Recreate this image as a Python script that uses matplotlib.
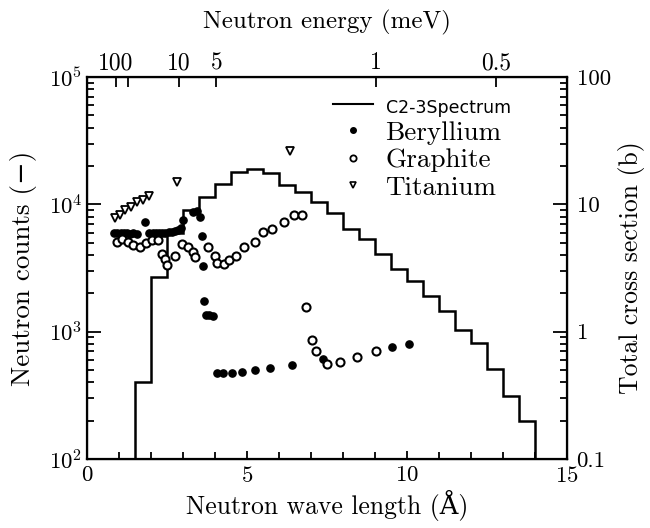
import numpy as np
import matplotlib.pyplot as plt
from matplotlib.lines import Line2D
from matplotlib.ticker import LogLocator, NullLocator, MultipleLocator, FixedLocator

plt.rcParams['font.family'] = ['cmr10', 'DejaVu Serif']
plt.rcParams['mathtext.fontset'] = 'cm'
plt.rcParams['axes.formatter.use_mathtext'] = True
plt.rcParams['axes.unicode_minus'] = False

# C2-3 spectrum, bin edges (A) and counts
edges = [1.5, 2.0, 2.5, 3.0, 3.5, 4.0, 4.5, 5.0, 5.5, 6.0, 6.5, 7.0, 7.5,
         8.0, 8.5, 9.0, 9.5, 10.0, 10.5, 11.0, 11.5, 12.0, 12.5, 13.0, 13.5, 14.0]
counts = [400, 2700, 6000, 9100, 11400, 14400, 17800, 18900, 17500, 14300,
          12400, 10500, 8500, 6450, 5300, 4100, 3080, 2520, 1890, 1440,
          1020, 820, 510, 310, 200]

# total cross sections (b)
lam_be = [0.85, 0.95, 1.05, 1.15, 1.25, 1.35, 1.45, 1.55, 1.81, 1.95, 2.05,
          2.15, 2.25, 2.35, 2.45, 2.55, 2.65, 2.75, 2.85, 2.95, 3.0, 3.3,
          3.45, 3.53, 3.6, 3.63, 3.66, 3.72, 3.82, 3.93, 4.05, 4.25, 4.52,
          4.83, 5.25, 5.72, 6.41, 7.38, 9.53, 10.06]
sig_be = [5.9, 6.0, 5.9, 6.0, 5.9, 5.8, 5.9, 5.8, 7.3, 5.9, 5.9, 6.0, 5.9,
          6.0, 6.0, 6.1, 6.1, 6.2, 6.3, 6.5, 7.6, 8.7, 8.8, 7.9, 5.6, 3.25,
          1.75, 1.36, 1.34, 1.32, 0.475, 0.475, 0.475, 0.48, 0.5, 0.52, 0.55,
          0.61, 0.75, 0.805]

lam_gr = [0.94, 1.09, 1.28, 1.44, 1.66, 1.84, 2.03, 2.22, 2.34, 2.44, 2.5,
          2.75, 2.97, 3.16, 3.31, 3.38, 3.78, 4.0, 4.06, 4.28, 4.44, 4.66,
          4.91, 5.25, 5.5, 5.78, 6.16, 6.47, 6.72, 6.84, 7.03, 7.16, 7.5,
          7.9, 8.44, 9.03]
sig_gr = [5.1, 5.3, 5.1, 4.75, 4.6, 5.0, 5.2, 5.2, 4.04, 3.69, 3.31, 3.96,
          4.84, 4.6, 4.19, 3.83, 4.6, 3.9, 3.43, 3.37, 3.63, 3.96, 4.6, 5.1,
          6.03, 6.36, 7.2, 8.2, 8.3, 1.55, 0.865, 0.71, 0.56, 0.58, 0.635,
          0.71]

lam_ti = [0.88, 1.03, 1.19, 1.38, 1.56, 1.75, 1.94, 2.81, 6.34]
sig_ti = [7.8, 8.3, 9.0, 9.6, 10.4, 10.9, 11.6, 14.9, 26.1]

# top axis: neutron energy (meV)
e_ticks = [100, 50, 10, 5, 1, 0.5]
e_labels = ['100', '', '10', '5', '1', '0.5']

fig = plt.figure(figsize=(6.5, 5.28), dpi=100)
ax = fig.add_axes([0.134, 0.131, 0.738, 0.723])

ax.stairs(counts, edges, baseline=1e2, color='k', lw=1.8)
ax.set_yscale('log')
ax.set_xlim(0, 15)
ax.set_ylim(1e2, 1e5)
ax.xaxis.set_major_locator(FixedLocator([0, 5, 10, 15]))
ax.xaxis.set_minor_locator(MultipleLocator(1))
ax.tick_params(which='both', direction='in', width=1.3, labelsize=16.5)
ax.tick_params(which='major', length=10)
ax.tick_params(which='minor', length=5)
ax.tick_params(axis='x', which='major', length=6, pad=5)
ax.set_xlabel('Neutron wave length (Å)', fontsize=18.5, labelpad=3)
ax.set_ylabel('Neutron counts (−)', fontsize=19.5, labelpad=8)
for s in ax.spines.values():
    s.set_linewidth(1.6)

ax2 = ax.twinx()
ax2.set_yscale('log')
ax2.set_ylim(0.1, 100)
ax2.plot(lam_be, sig_be, 'o', color='k', ms=5.2, ls='none')
ax2.plot(lam_gr, sig_gr, 'o', mfc='white', mec='k', mew=1.5, ms=5.8, ls='none')
ax2.plot(lam_ti, sig_ti, 'v', mfc='white', mec='k', mew=1.3, ms=5.2, ls='none')
ax2.yaxis.set_major_locator(FixedLocator([0.1, 1, 10, 100]))
ax2.set_yticklabels(['0.1', '1', '10', '100'])
ax2.yaxis.set_minor_locator(LogLocator(subs=np.arange(2, 10)))
ax2.tick_params(which='both', direction='in', width=1.3, labelsize=16.5, pad=7)
ax2.tick_params(which='major', length=10)
ax2.tick_params(which='minor', length=5)
ax2.set_ylabel('Total cross section (b)', fontsize=18.5, labelpad=5)

ax3 = ax.twiny()
ax3.set_xlim(0, 15)
ax3.set_xticks(np.sqrt(81.81 / np.array(e_ticks)))
ax3.set_xticklabels(e_labels)
ax3.xaxis.set_minor_locator(NullLocator())
ax3.tick_params(direction='in', length=7, width=1.3, labelsize=17, pad=2)
ax3.set_xlabel('Neutron energy (meV)', fontsize=18, labelpad=17)

handles = [Line2D([], [], color='k', lw=1.5),
           Line2D([], [], marker='o', color='k', ls='none', ms=4),
           Line2D([], [], marker='o', mfc='white', mec='k', mew=1.3, ls='none', ms=4.5),
           Line2D([], [], marker='v', mfc='white', mec='k', mew=1.2, ls='none', ms=4.5)]
labels = ['C2-3Spectrum', 'Beryllium', 'Graphite', 'Titanium']
leg = ax3.legend(handles, labels, loc='upper left', bbox_to_anchor=(0.512, 0.955),
                 frameon=False, fontsize=19.5, handlelength=1.5, handletextpad=0.45,
                 labelspacing=0.13, borderaxespad=0, borderpad=0)
leg.get_texts()[0].set_fontfamily('DejaVu Sans')
leg.get_texts()[0].set_fontsize(12.5)

fig.savefig('out.png', dpi=100)
